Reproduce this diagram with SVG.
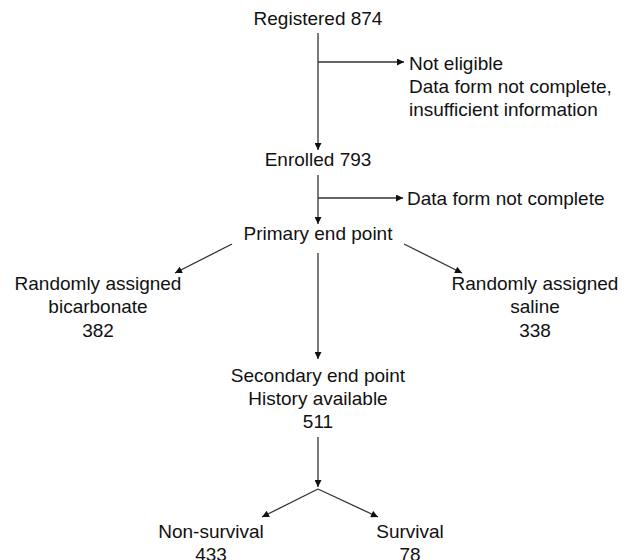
<svg xmlns="http://www.w3.org/2000/svg" width="630" height="560" viewBox="0 0 630 560">
<defs>
<marker id="ah" viewBox="0 0 10 10" refX="10" refY="5" markerWidth="10" markerHeight="7" markerUnits="userSpaceOnUse" orient="auto">
<path d="M0,0 L10,5 L0,10 z" fill="#111"/>
</marker>
<style>
text{font-family:"Liberation Sans",Arial,sans-serif;font-size:19px;fill:#111}
.m{text-anchor:middle}
.c line{stroke:#333;stroke-width:1.3;fill:none}
.a{marker-end:url(#ah)}
</style>
</defs>
<rect width="630" height="560" fill="#fff"/>
<g class="c" id="connectors">
<line x1="318" y1="33" x2="318" y2="150" class="a"/>
<line x1="318" y1="62" x2="404" y2="62" class="a"/>
<line x1="318" y1="175" x2="318" y2="224" class="a"/>
<line x1="318" y1="198" x2="403" y2="198" class="a"/>
<line x1="232" y1="244" x2="175" y2="273" class="a"/>
<line x1="404" y1="244" x2="462" y2="273" class="a"/>
<line x1="318" y1="253" x2="318" y2="359" class="a"/>
<line x1="318" y1="437" x2="318" y2="487" class="a"/>
<line x1="318" y1="489" x2="262" y2="517" class="a"/>
<line x1="318" y1="489" x2="378" y2="517" class="a"/>
</g>
<g id="registered"><text class="m" x="318" y="25">Registered 874</text></g>
<g id="not-eligible">
<text x="409" y="70">Not eligible</text>
<text x="409" y="93">Data form not complete,</text>
<text x="409" y="116">insufficient information</text>
</g>
<g id="enrolled"><text class="m" x="318" y="166">Enrolled 793</text></g>
<g id="data-form"><text x="407" y="205">Data form not complete</text></g>
<g id="primary"><text class="m" x="318" y="240">Primary end point</text></g>
<g id="bicarbonate">
<text class="m" x="98" y="290">Randomly assigned</text>
<text class="m" x="98" y="313">bicarbonate</text>
<text class="m" x="98" y="337">382</text>
</g>
<g id="saline">
<text class="m" x="535" y="290">Randomly assigned</text>
<text class="m" x="535" y="313">saline</text>
<text class="m" x="535" y="337">338</text>
</g>
<g id="secondary">
<text class="m" x="318" y="382">Secondary end point</text>
<text class="m" x="318" y="405">History available</text>
<text class="m" x="318" y="428">511</text>
</g>
<g id="non-survival">
<text class="m" x="211" y="538">Non-survival</text>
<text class="m" x="211" y="561">433</text>
</g>
<g id="survival">
<text class="m" x="410" y="538">Survival</text>
<text class="m" x="410" y="561">78</text>
</g>
</svg>
